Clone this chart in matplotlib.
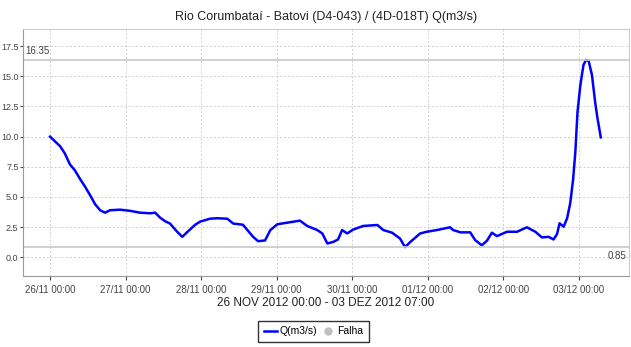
import matplotlib
matplotlib.use('Agg')
import matplotlib.pyplot as plt
import matplotlib.dates as mdates
from matplotlib.lines import Line2D
from datetime import datetime, timedelta

# vazao horaria - Rio Corumbatai, posto Batovi
inicio = datetime(2012, 11, 26, 0, 0)
horas = [0, 1.6, 3.2, 4.7, 6.3, 7.9, 9.5, 11.0, 12.6, 14.3, 15.9, 17.5, 19.0,
         22.2, 25.5, 28.6, 31.8, 33.4, 34.9, 36.5, 38.1, 40.1, 42.0, 43.6,
         46.1, 47.7, 50.8, 53.0, 56.3, 58.2, 61.3, 64.5, 66.1, 68.3, 70.0,
         72.2, 75.3, 79.4, 81.7, 84.9, 86.5, 88.1, 90.0, 91.5, 92.8, 94.4,
         96.3, 99.5, 104.0, 105.9, 108.7, 111.2, 112.8, 114.5, 117.6, 119.7,
         122.9, 127.1, 128.1, 130.4, 133.5, 135.1, 137.2, 138.8, 140.4,
         142.0, 145.2, 148.4, 151.5, 154.2, 156.3, 158.4, 160.0, 161.1,
         161.9, 163.2, 164.3, 165.3, 166.2, 166.9, 167.6, 168.5, 169.5,
         170.3, 171.1, 172.2, 173.2, 173.9, 175.0]
vazao = [10.0, 9.6, 9.2, 8.6, 7.7, 7.2, 6.5, 5.9, 5.2, 4.4, 3.9, 3.7, 3.9,
         3.95, 3.85, 3.7, 3.65, 3.7, 3.3, 3.0, 2.8, 2.2, 1.7, 2.1,
         2.7, 2.96, 3.2, 3.24, 3.2, 2.8, 2.7, 1.7, 1.34, 1.4, 2.26,
         2.74, 2.87, 3.04, 2.6, 2.26, 1.98, 1.15, 1.28, 1.48, 2.26, 1.98,
         2.3, 2.6, 2.68, 2.26, 2.04, 1.56, 0.85, 1.28, 1.98, 2.12,
         2.26, 2.49, 2.26, 2.07, 2.07, 1.42, 1.0, 1.37, 2.04,
         1.76, 2.12, 2.12, 2.49, 2.12, 1.65, 1.7, 1.48, 1.93,
         2.82, 2.54, 3.24, 4.5, 6.45, 8.68, 12.03, 14.26, 15.94,
         16.35, 16.3, 15.1, 12.87, 11.6, 9.94]
q_max = max(vazao)
q_min = min(vazao)
dias = [inicio + timedelta(days=d) for d in range(8)]
yticks = [0.0, 2.5, 5.0, 7.5, 10.0, 12.5, 15.0, 17.5]

plt.rcParams['font.family'] = ['Liberation Sans', 'DejaVu Sans']
cinza = '#444444'

fig = plt.figure(figsize=(6.31, 3.47), dpi=100)
ax = fig.add_axes([0.036, 0.2055, 0.961, 0.71])

t = [inicio + timedelta(hours=h) for h in horas]
ax.plot(t, vazao, color='#0000ff', lw=1.8)

# linhas de maximo e minimo
ax.axhline(q_max, color='#c8c8c8', lw=1.2)
ax.axhline(q_min, color='#c8c8c8', lw=1.2)
ax.text(0.004, q_max + 0.35, '%.2f' % q_max, transform=ax.get_yaxis_transform(),
        fontsize=7, color=cinza, ha='left', va='bottom')
ax.text(0.996, q_min - 0.35, '%.2f' % q_min, transform=ax.get_yaxis_transform(),
        fontsize=7, color=cinza, ha='right', va='top')

ax.set_xlim(inicio - timedelta(hours=8.7), inicio + timedelta(hours=184))
ax.set_ylim(-1.52, 18.89)
ax.set_xticks(dias)
ax.xaxis.set_major_formatter(mdates.DateFormatter('%d/%m %H:%M'))
ax.set_yticks(yticks)
ax.set_yticklabels(['%.1f' % v for v in yticks])
ax.tick_params(axis='x', labelsize=7, colors=cinza, length=3, width=0.8)
ax.tick_params(axis='y', labelsize=6.5, colors=cinza, length=2, width=0.8,
               pad=1)
ax.grid(True, color='#d0d0d0', ls=(0, (2, 2)), lw=0.7)

for lado in ['top', 'right']:
    ax.spines[lado].set_color('#cccccc')
for lado in ['left', 'bottom']:
    ax.spines[lado].set_color('#999999')

fig.text(0.516, 0.951, 'Rio Corumbataí - Batovi (D4-043) / (4D-018T) Q(m3/s)',
         ha='center', va='center', fontsize=9, color='#222222')
fig.text(0.516, 0.128, '26 NOV 2012 00:00 - 03 DEZ 2012 07:00',
         ha='center', va='center', fontsize=8.5, color='#222222')

alcas = [Line2D([], [], color='#0000ff', lw=1.8),
         Line2D([], [], ls='none', marker='o', color='#c0c0c0', markersize=5)]
leg = fig.legend(alcas, ['Q(m3/s)', 'Falha'], loc='center', ncol=2,
                 bbox_to_anchor=(0.497, 0.045), fontsize=7.5, frameon=True,
                 fancybox=False, edgecolor='black', handlelength=1.2,
                 handletextpad=0.3, columnspacing=0.4, borderpad=0.55,
                 borderaxespad=0)
leg.get_frame().set_linewidth(1.0)

fig.savefig('out.png', dpi=100)
